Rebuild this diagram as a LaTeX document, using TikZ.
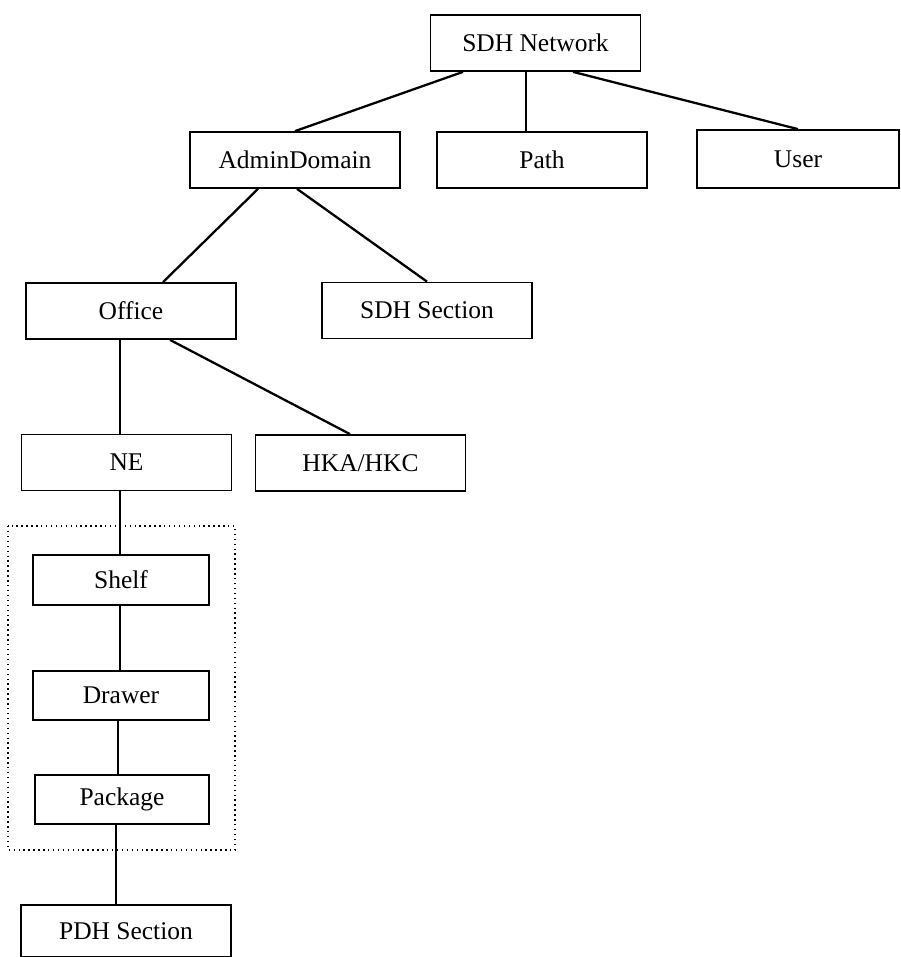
\documentclass[tikz,border=0pt]{standalone}
\usepackage{fontspec}
\setmainfont{Liberation Serif}

\begin{document}
\begin{tikzpicture}[x=0.02cm, y=-0.02cm,
      every node/.style={draw, line width=1pt, font=\fontsize{14.5}{17}\selectfont,
        minimum width=4.2cm, minimum height=1.12cm, inner sep=0pt},
      link/.style={line width=1.3pt},
      group/.style={dotted, line width=0.8pt}]
  %.
  \useasboundingbox (0,0) rectangle (900,957);
  \node (net)    at (535.5,43)  {SDH Network};
  \node (admin)  at (295,160)   {AdminDomain};
  \node (path)   at (542,160)   {Path};
  \node[minimum width=4.04cm, minimum height=1.16cm] (user) at (798,159) {User};
  \node (office) at (131,311)   {Office};
  \node (sdhsec) at (427,310.5) {SDH Section};
  \node (ne)     at (126.5,462.5) {NE};
  \node (hka)    at (360.5,463) {HKA/HKC};
  \node[minimum width=3.52cm, minimum height=1cm] (shelf)   at (121,580)   {Shelf};
  \node[minimum width=3.52cm, minimum height=0.98cm] (drawer)  at (121,695.5) {Drawer};
  \node[minimum width=3.48cm, minimum height=0.98cm] (package) at (122,799.5) {Package};
  \node[minimum height=1.04cm] (pdh) at (126,931) {PDH Section};
  %.
  \draw[group] (8,526) rectangle (235,850);
  %.
  \draw[link] ([xshift=-1.45cm]net.south) -- (admin.north);
  \draw[link] ([xshift=-0.19cm]net.south) -- ([xshift=-0.19cm]net.south |- path.north);
  \draw[link] ([xshift=0.75cm]net.south) -- (user.north);
  \draw[link] ([xshift=-0.74cm]admin.south) -- ([xshift=0.64cm]office.north);
  \draw[link] ([xshift=0.04cm]admin.south) -- (sdhsec.north);
  \draw[link] ([xshift=-0.22cm]office.south) -- ([xshift=-0.22cm]office.south |- ne.north);
  \draw[link] ([xshift=0.78cm]office.south) -- ([xshift=-0.21cm]hka.north);
  \draw[link] ([xshift=-0.13cm]ne.south) -- ([xshift=-0.13cm]ne.south |- shelf.north);
  \draw[link] ([xshift=-0.02cm]shelf.south) -- ([xshift=-0.02cm]shelf.south |- drawer.north);
  \draw[link] ([xshift=-0.06cm]drawer.south) -- ([xshift=-0.06cm]drawer.south |- package.north);
  \draw[link] ([xshift=-0.12cm]package.south) -- ([xshift=-0.12cm]package.south |- pdh.north);
  %.
\end{tikzpicture}
\end{document}
